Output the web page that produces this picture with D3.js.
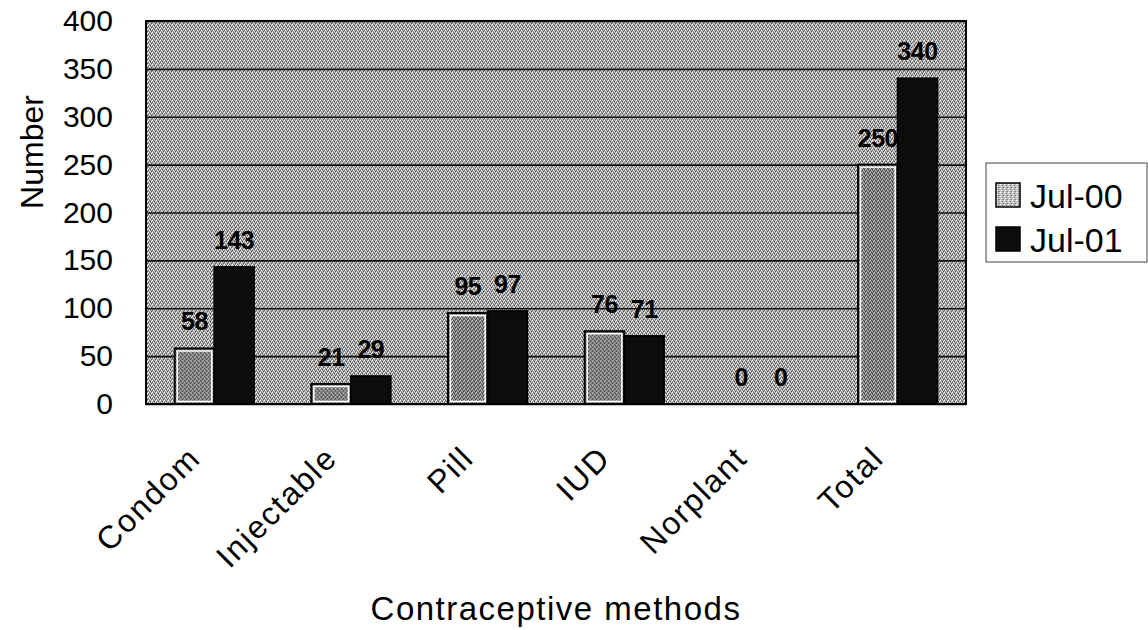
<!DOCTYPE html>
<html><head><meta charset="utf-8">
<script src="https://cdn.jsdelivr.net/npm/d3@7"></script>
<style>html,body{margin:0;padding:0;background:#fff;} svg{display:block;}</style>
</head><body>
<svg id="chart" width="1148" height="630"></svg>
<script>
const categories = ["Condom","Injectable","Pill","IUD","Norplant","Total"];
const seriesNames = ["Jul-00","Jul-01"];
const jul00 = [58,21,95,76,0,250];
const jul01 = [143,29,97,71,0,340];
const yTicks = [0,50,100,150,200,250,300,350,400];
const yTitle = "Number";
const xTitle = "Contraceptive methods";

const seriesValues = [jul00, jul01];
const L = 146, R = 966, T = 21, B = 404;
const FONT = "'Liberation Sans', Arial, sans-serif";
const svg = d3.select("#chart");
const defs = svg.append("defs");

function dither(id, base, dots){
  const p = defs.append("pattern").attr("id", id).attr("width",4).attr("height",4)
    .attr("patternUnits","userSpaceOnUse");
  p.append("rect").attr("width",4).attr("height",4).attr("fill",base);
  dots.forEach(d => p.append("rect").attr("x",d[0]).attr("y",d[1]).attr("width",1).attr("height",1).attr("fill",d[2]));
}
dither("bg", "#aaaaaa", [[0,0,"#fff"],[2,1,"#3a3a3a"],[1,2,"#e6e6e6"],[3,3,"#505050"],[3,1,"#f0f0f0"],[1,0,"#7a7a7a"],[2,3,"#d6d6d6"],[0,2,"#6a6a6a"]]);
dither("bar0", "#848484", [[0,0,"#d0d0d0"],[2,1,"#333"],[1,2,"#bcbcbc"],[3,3,"#3c3c3c"],[3,1,"#b5b5b5"],[1,0,"#4c4c4c"],[2,3,"#aaa"],[0,2,"#484848"]]);
dither("leg0", "#c4c4c4", [[0,0,"#fff"],[2,1,"#6a6a6a"],[1,2,"#eee"],[3,3,"#7a7a7a"],[2,3,"#999"]]);

const x = d3.scaleBand().domain(categories).range([L, R]).paddingInner(0.42).paddingOuter(0.21);
const xs = d3.scaleBand().domain(seriesNames).range([0, x.bandwidth()]);
const y = d3.scaleLinear().domain([0, 400]).range([B, T]);

// plot background
svg.append("rect").attr("x", L).attr("y", T).attr("width", R - L).attr("height", B - T).attr("fill", "url(#bg)");

// gridlines
const grid = svg.append("g").attr("transform", `translate(${L},0)`)
  .call(d3.axisLeft(y).tickValues(yTicks).tickSize(-(R - L)).tickFormat(""));
grid.select(".domain").remove();
grid.selectAll("line").attr("stroke", "#111").attr("stroke-width", 1.6);

// y tick labels
const yAxis = svg.append("g").attr("transform", `translate(${L},0)`)
  .call(d3.axisLeft(y).tickValues(yTicks).tickSize(0).tickPadding(33));
yAxis.select(".domain").remove();
yAxis.selectAll("text").attr("font-family", FONT).attr("font-size", 30).attr("fill", "#000");

// bars
const groups = svg.append("g").selectAll("g").data(categories).join("g")
  .attr("transform", d => `translate(${x(d)},0)`);
seriesNames.forEach((s, si) => {
  groups.append("rect")
    .attr("x", xs(s)).attr("width", xs.bandwidth())
    .attr("y", (d, i) => y(seriesValues[si][i]))
    .attr("height", (d, i) => B - y(seriesValues[si][i]))
    .attr("fill", si === 0 ? "url(#bar0)" : "#0c0c0c")
    .attr("stroke", "#000").attr("stroke-width", 2)
    .attr("display", (d, i) => seriesValues[si][i] > 0 ? null : "none");
  if (si === 0) {
    groups.append("rect")
      .attr("x", xs(s) + 2.5).attr("width", xs.bandwidth() - 5)
      .attr("y", (d, i) => y(seriesValues[si][i]) + 2.5)
      .attr("height", (d, i) => Math.max(0, B - y(seriesValues[si][i]) - 5))
      .attr("fill", "none").attr("stroke", "#fff").attr("stroke-width", 1.5)
      .attr("display", (d, i) => seriesValues[si][i] > 0 ? null : "none");
  }
  groups.append("text")
    .attr("x", xs(s) + xs.bandwidth() / 2)
    .attr("y", (d, i) => y(seriesValues[si][i]) - 18)
    .attr("text-anchor", "middle")
    .attr("font-family", FONT)
    .attr("font-weight", "bold").attr("font-size", 25).attr("letter-spacing", -0.5)
    .attr("fill", "#000")
    .text((d, i) => seriesValues[si][i]);
});

// frame
svg.append("rect").attr("x", L).attr("y", T).attr("width", R - L).attr("height", B - T)
  .attr("fill", "none").attr("stroke", "#000").attr("stroke-width", 2);

// x axis labels
const xAxis = svg.append("g").attr("transform", `translate(0,${B})`)
  .call(d3.axisBottom(x).tickSize(0));
xAxis.select(".domain").remove();
xAxis.selectAll("text")
  .attr("font-family", FONT).attr("font-size", 32).attr("letter-spacing", 1.8).attr("fill", "#000")
  .attr("text-anchor", "end").attr("y", 0).attr("dy", null)
  .attr("transform", "translate(-12,56) rotate(-45)");

// axis titles
svg.append("text").attr("x", (L + R) / 2).attr("y", 620).attr("text-anchor", "middle")
  .attr("font-family", FONT).attr("font-size", 33).attr("letter-spacing", 1.5)
  .text(xTitle);
svg.append("text").attr("transform", "translate(43,152) rotate(-90)").attr("text-anchor", "middle")
  .attr("font-family", FONT).attr("font-size", 32)
  .text(yTitle);

// legend
const lg = svg.append("g");
lg.append("rect").attr("x", 986).attr("y", 163).attr("width", 161).attr("height", 99)
  .attr("fill", "#fff").attr("stroke", "#444").attr("stroke-width", 1);
seriesNames.forEach((s, si) => {
  const cy = 195 + si * 44;
  lg.append("rect").attr("x", 996).attr("y", cy - 12).attr("width", 24).attr("height", 24)
    .attr("fill", si === 0 ? "url(#leg0)" : "#0c0c0c").attr("stroke", "#000").attr("stroke-width", 1.5);
  lg.append("text").attr("x", 1030).attr("y", cy + 13)
    .attr("font-family", FONT).attr("font-size", 34)
    .text(s);
});
</script>
</body></html>
